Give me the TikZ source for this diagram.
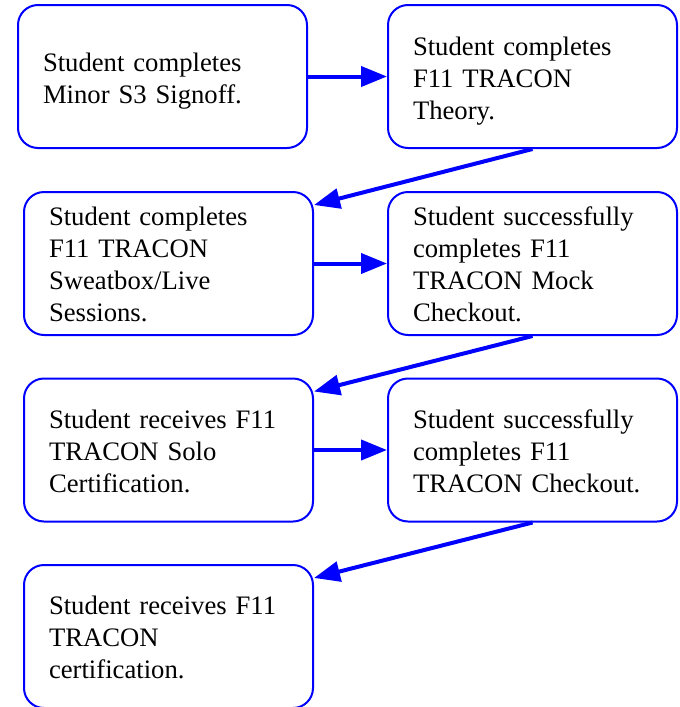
\documentclass[tikz,border=0pt]{standalone}
\usepackage{fontspec}
\setmainfont{Liberation Serif}
\usetikzlibrary{arrows.meta}
\definecolor{flowblue}{RGB}{0,0,255}
\newcommand{\liftA}{\rule{0pt}{21pt}}
\newcommand{\liftB}{\rule{0pt}{16pt}}
\begin{document}
\begin{tikzpicture}[x=0.75pt,y=-0.75pt,
  stepbox/.style={draw=flowblue, line width=1.5pt, rounded corners=15pt,
    minimum width=216.75pt, minimum height=107.25pt, text width=179.25pt,
    inner xsep=18.75pt, inner ysep=0pt, align=left,
    font=\fontsize{20}{24}\selectfont},
  flow/.style={draw=flowblue, line width=3pt,
    -{Triangle[length=19.5pt,width=15pt]}, shorten >=0pt}]
\useasboundingbox (0,0) rectangle (680,707);
\node[stepbox] (b1) at (162.5,76.5) {\liftA Student completes\\Minor S3 Signoff.};
\node[stepbox] (b2) at (532.5,76.5) {\liftA Student completes\\F11 TRACON\\Theory.};
\node[stepbox] (b3) at (168.5,263.5) {\liftB Student completes\\F11 TRACON\\Sweatbox/Live\\Sessions.};
\node[stepbox] (b4) at (532.5,263.5) {\liftB Student successfully\\completes F11\\TRACON Mock\\Checkout.};
\node[stepbox] (b5) at (168.5,450) {\liftB Student receives F11\\TRACON Solo\\Certification.};
\node[stepbox] (b6) at (532.5,450) {\liftB Student successfully\\completes F11\\TRACON Checkout.};
\node[stepbox] (b7) at (168.5,636.5) {\liftB Student receives F11\\TRACON\\certification.};
\draw[flow] (b1.east) -- (b2.west);
\draw[flow] (b3.east) -- (b4.west);
\draw[flow] (b5.east) -- (b6.west);
\draw[flow] (b2.south) -- ([yshift=-10.5pt]b3.north east);
\draw[flow] (b4.south) -- ([yshift=-10.5pt]b5.north east);
\draw[flow] (b6.south) -- ([yshift=-10.5pt]b7.north east);
\end{tikzpicture}
\end{document}
